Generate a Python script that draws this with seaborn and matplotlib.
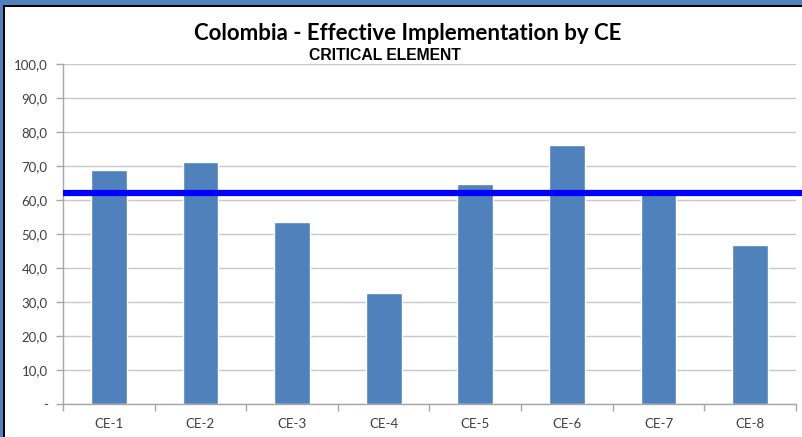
"""
Colombia - Effective Implementation by CE (critical element bar chart).
"""

import matplotlib
matplotlib.use("Agg")
import matplotlib.pyplot as plt
import matplotlib.transforms as mtransforms
from matplotlib.patches import Rectangle
from matplotlib.ticker import FixedLocator, FuncFormatter
import pandas as pd
import seaborn as sns

# Datos
categories = ["CE-1", "CE-2", "CE-3", "CE-4", "CE-5", "CE-6", "CE-7", "CE-8"]
values = [68.7, 71.2, 53.5, 32.6, 64.7, 76.2, 61.8, 46.8]
overall_ei = 62.1
y_ticks = [0, 10, 20, 30, 40, 50, 60, 70, 80, 90, 100]

title = "Colombia - Effective Implementation by CE"
subtitle = "CRITICAL ELEMENT"

BAR_COLOR = "#4F81BD"
LINE_COLOR = "#0000FF"
GRID_COLOR = "#C8C8C8"
AXIS_COLOR = "#A6A6A6"
TEXT_COLOR = "#404040"

sns.set_theme(style="white")
plt.rcParams["font.family"] = ["Lato", "DejaVu Sans"]

df = pd.DataFrame({"ce": categories, "value": values})

fig = plt.figure(figsize=(8.03, 4.37), dpi=100)
fig.patch.set_facecolor("white")
ax = fig.add_axes([63 / 803, 1 - 404 / 437, 733 / 803, 340 / 437])

sns.barplot(data=df, x="ce", y="value", color=BAR_COLOR, width=0.39,
            saturation=1, ax=ax, zorder=2)

ax.set_ylim(0, 100)
ax.set_xlim(-0.5, len(categories) - 0.5)
ax.set_xlabel("")
ax.set_ylabel("")

# Eje Y
ax.yaxis.set_major_locator(FixedLocator(y_ticks))
ax.yaxis.set_major_formatter(
    FuncFormatter(lambda v, _: "-" if v == 0 else f"{v:.1f}".replace(".", ","))
)
ax.grid(axis="y", color=GRID_COLOR, linewidth=1.0, zorder=0)
ax.set_axisbelow(True)

# Eje X: marcas en los limites de categoria
ax.xaxis.set_minor_locator(FixedLocator([i - 0.5 for i in range(len(categories) + 1)]))
ax.tick_params(axis="x", which="major", length=0, pad=10, labelsize=9.5,
               labelcolor=TEXT_COLOR)
ax.tick_params(axis="x", which="minor", length=5, width=1, color=AXIS_COLOR,
               direction="out", bottom=True)
ax.tick_params(axis="y", length=5, width=1, color=AXIS_COLOR, direction="out",
               left=True, labelsize=9.5, labelcolor=TEXT_COLOR, pad=6)

for side in ["top", "right"]:
    ax.spines[side].set_visible(False)
for side in ["left", "bottom"]:
    ax.spines[side].set_color(AXIS_COLOR)
    ax.spines[side].set_linewidth(1.0)

# Linea del promedio: cruza todo el ancho hasta el borde derecho
trans = mtransforms.blended_transform_factory(fig.transFigure, ax.transData)
ax.plot([63 / 803, 1.0], [overall_ei, overall_ei], transform=trans,
        color=LINE_COLOR, linewidth=4.5, clip_on=False, zorder=5,
        solid_capstyle="butt")

# Titulos
fig.text(408 / 803, 1 - 34 / 437, title, ha="center", va="center",
         fontsize=16, fontweight="bold", color="black")
fig.text(385 / 803, 1 - 55 / 437, subtitle, ha="center", va="center",
         fontsize=11.3, fontweight="bold", color="black",
         family=["Liberation Sans", "DejaVu Sans"])

# Marco (bordes azul y negro arriba e izquierda)
W, H = 803, 437
fig.patches.append(Rectangle((0, 1 - 5 / H), 1, 5 / H, transform=fig.transFigure,
                             facecolor=BAR_COLOR, edgecolor="none", zorder=10))
fig.patches.append(Rectangle((0, 1 - 7 / H), 1, 2 / H, transform=fig.transFigure,
                             facecolor="black", edgecolor="none", zorder=10))
fig.patches.append(Rectangle((0, 0), 3 / W, 1, transform=fig.transFigure,
                             facecolor=BAR_COLOR, edgecolor="none", zorder=10))
fig.patches.append(Rectangle((3 / W, 0), 2 / W, 1 - 5 / H, transform=fig.transFigure,
                             facecolor="black", edgecolor="none", zorder=10))

fig.savefig("out.png", dpi=100)
plt.close(fig)
